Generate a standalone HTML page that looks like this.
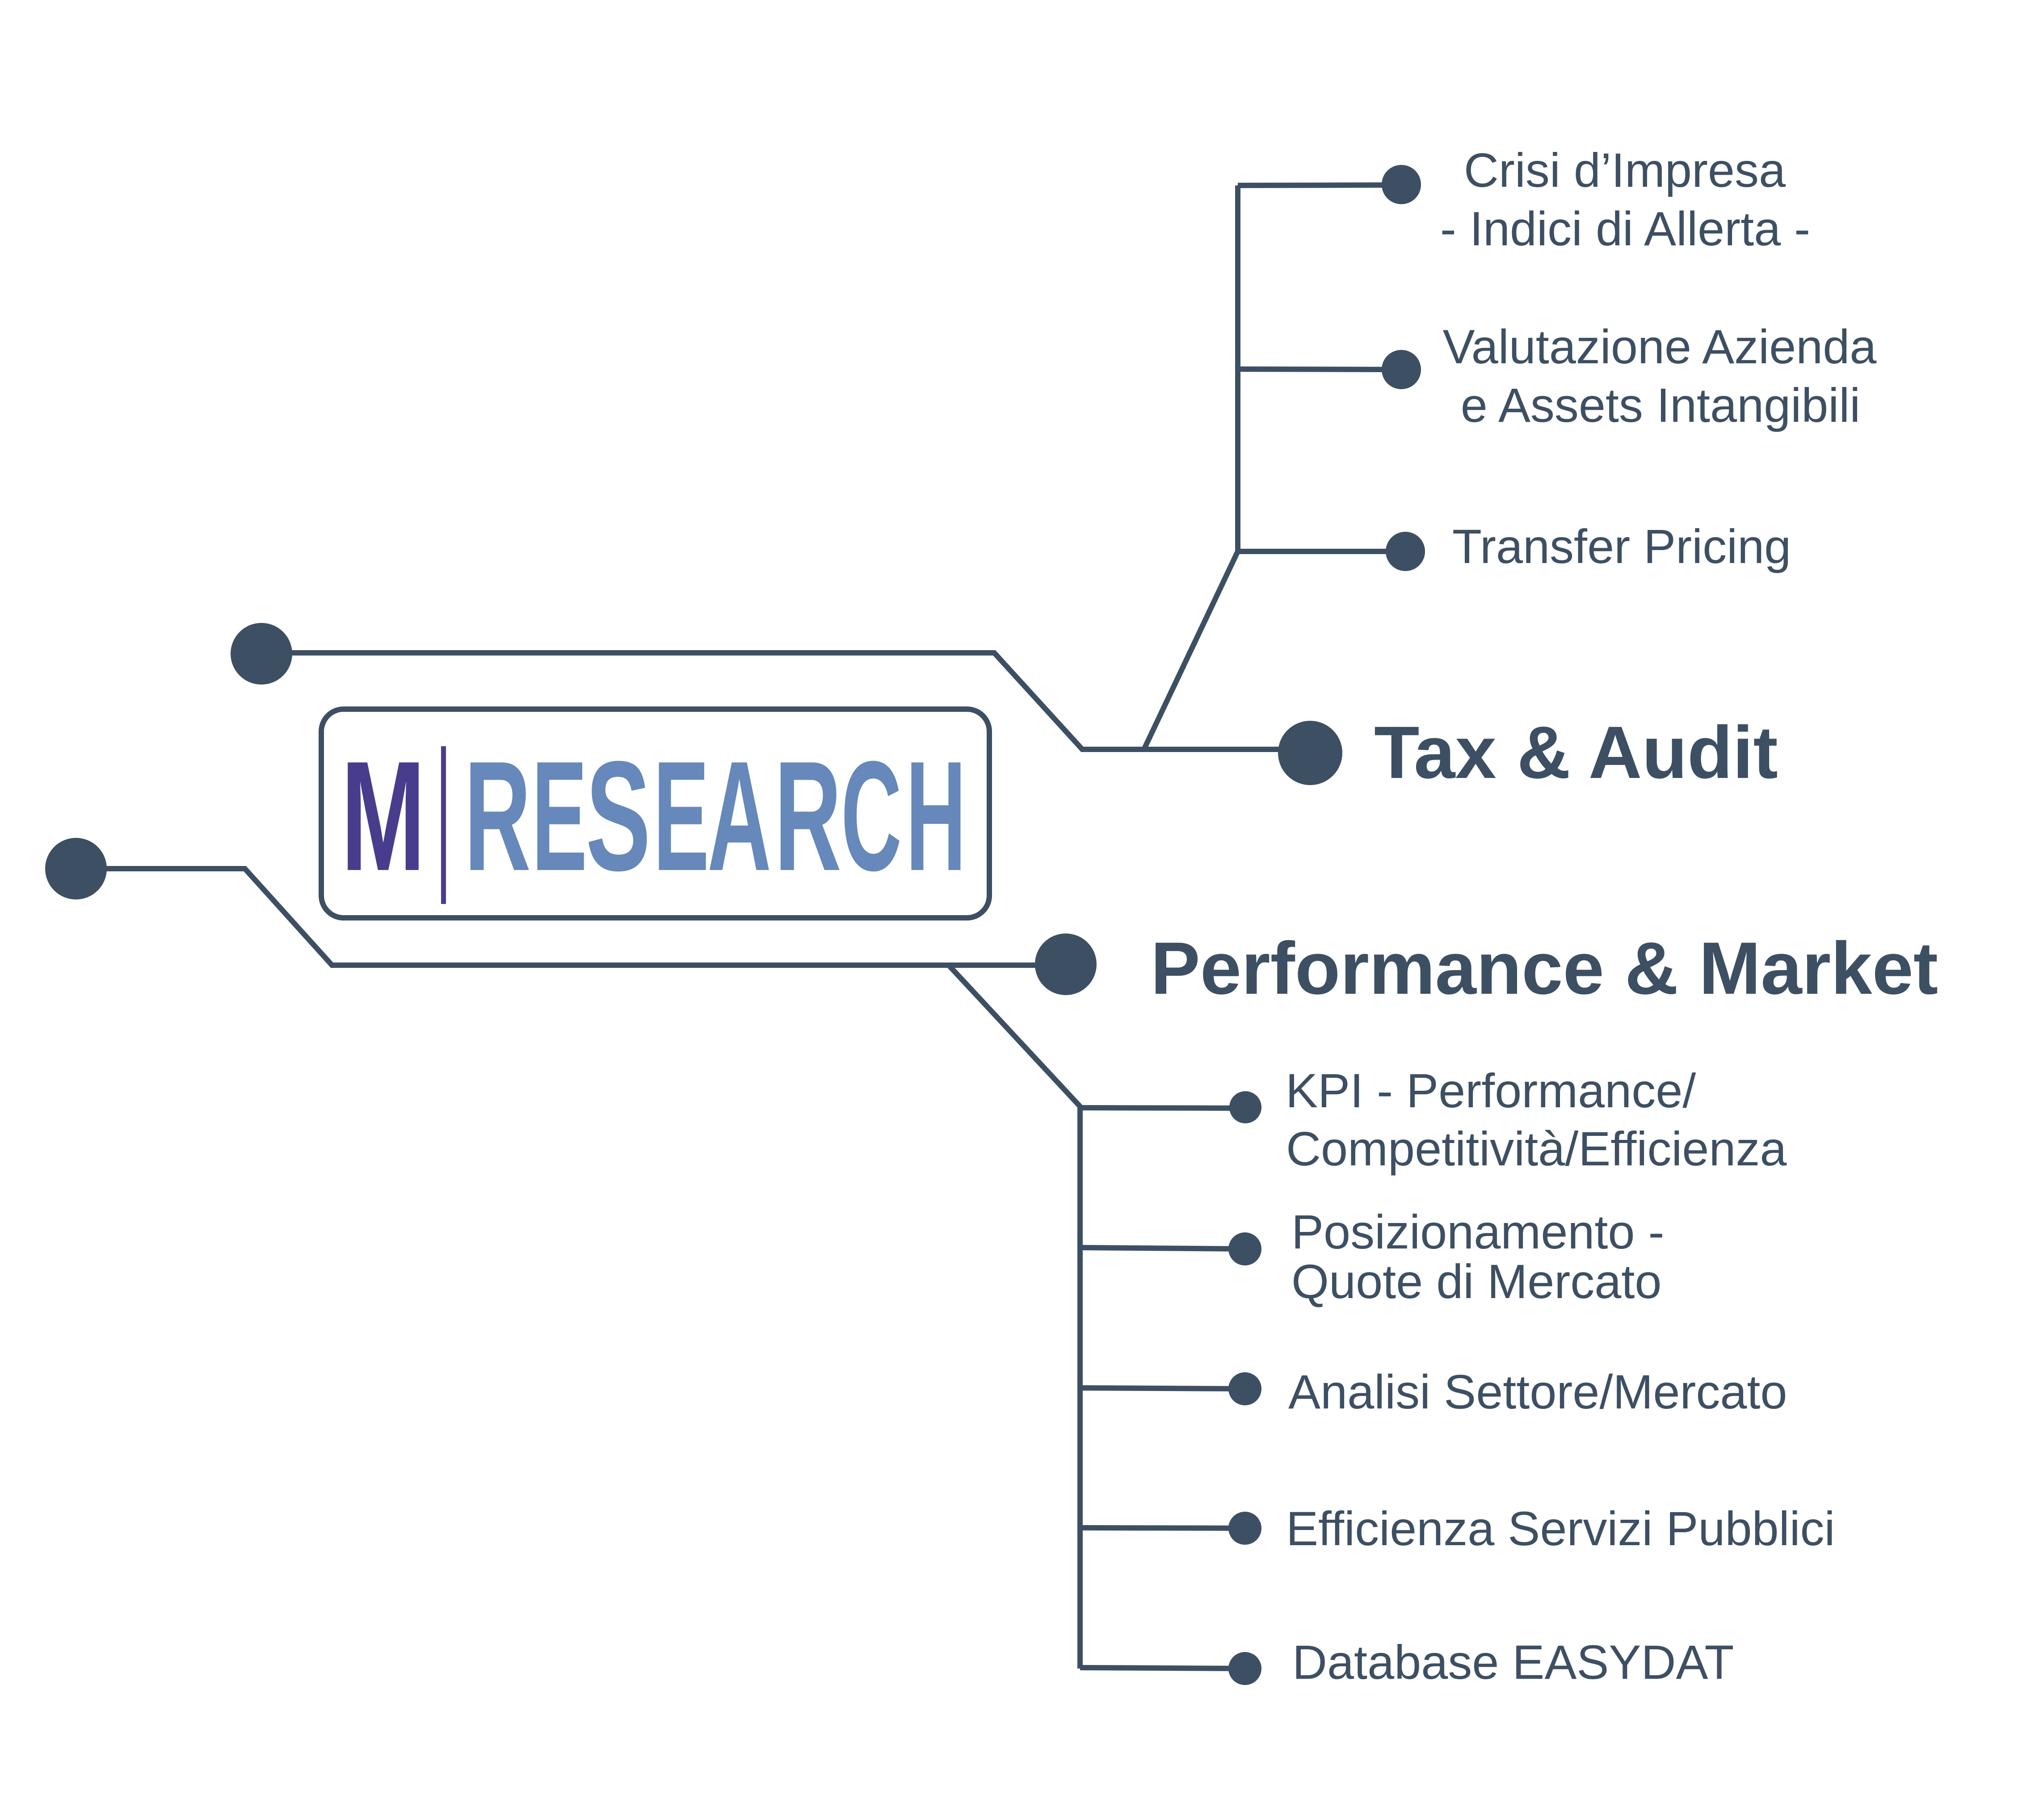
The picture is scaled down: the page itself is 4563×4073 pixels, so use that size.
<!DOCTYPE html>
<html>
<head>
<meta charset="utf-8">
<style>
  html,body{margin:0;padding:0;background:#ffffff;}
  svg{display:block;}
  .t{font-family:"Liberation Sans",Arial,sans-serif;fill:#3d4f63;}
</style>
</head>
<body>
<svg width="4563" height="4073" viewBox="0 0 4563 4073" xmlns="http://www.w3.org/2000/svg">
  <rect x="0" y="0" width="4563" height="4073" fill="#ffffff"/>

  <g stroke="#3d4f63" stroke-width="12" fill="none" stroke-linejoin="miter">
    <!-- upper main connector -->
    <polyline points="585,1461 2225,1461 2422,1677 2932,1677"/>
    <!-- branch up to Tax & Audit sublist -->
    <polyline points="2560,1677 2770,1234 2770,415"/>
    <line x1="2770" y1="415" x2="3136" y2="414"/>
    <line x1="2770" y1="826" x2="3136" y2="827"/>
    <line x1="2770" y1="1234" x2="3145" y2="1234"/>

    <!-- lower main connector -->
    <polyline points="170,1944 548,1944 743,2160 2385,2160"/>
    <!-- branch down to Performance sublist -->
    <polyline points="2123,2160 2417,2476 2417,3734"/>
    <line x1="2417" y1="2479" x2="2786" y2="2480"/>
    <line x1="2417" y1="2792" x2="2786" y2="2795"/>
    <line x1="2417" y1="3106" x2="2786" y2="3108"/>
    <line x1="2417" y1="3419" x2="2786" y2="3420"/>
    <line x1="2417" y1="3732" x2="2786" y2="3734"/>

    <!-- logo box -->
    <rect x="719" y="1587" width="1495" height="467" rx="50" ry="50"/>
  </g>

  <g fill="#3d4f63">
    <!-- big nodes -->
    <circle cx="585" cy="1463" r="69"/>
    <circle cx="170" cy="1944" r="69"/>
    <circle cx="2932" cy="1685" r="72"/>
    <circle cx="2385" cy="2158" r="69"/>
    <!-- upper small nodes -->
    <circle cx="3136" cy="413" r="44"/>
    <circle cx="3136" cy="827" r="44"/>
    <circle cx="3145" cy="1234" r="44"/>
    <!-- lower small nodes -->
    <circle cx="2787" cy="2478" r="36"/>
    <circle cx="2786" cy="2795" r="37"/>
    <circle cx="2786" cy="3108" r="37"/>
    <circle cx="2786" cy="3420" r="37"/>
    <circle cx="2786" cy="3734" r="37"/>
  </g>

  <!-- Logo -->
  <g font-family="'Liberation Sans',Arial,sans-serif" font-weight="bold" font-size="350">
    <text x="763" y="1947" textLength="189" lengthAdjust="spacingAndGlyphs" fill="#483d8d">M</text>
    <rect x="987" y="1670" width="11" height="353" fill="#483d8d"/>
    <g fill="#6688ba">
      <text x="1039" y="1947" textLength="149" lengthAdjust="spacingAndGlyphs">R</text>
      <text x="1190" y="1947" textLength="124" lengthAdjust="spacingAndGlyphs">E</text>
      <text x="1311" y="1947" textLength="145" lengthAdjust="spacingAndGlyphs">S</text>
      <text x="1462" y="1947" textLength="125" lengthAdjust="spacingAndGlyphs">E</text>
      <text x="1583" y="1947" textLength="143" lengthAdjust="spacingAndGlyphs">A</text>
      <text x="1733" y="1947" textLength="150" lengthAdjust="spacingAndGlyphs">R</text>
      <text x="1882" y="1947" textLength="136" lengthAdjust="spacingAndGlyphs">C</text>
      <text x="2027" y="1947" textLength="135" lengthAdjust="spacingAndGlyphs">H</text>
    </g>
  </g>

  <!-- Headings -->
  <text class="t" x="3075" y="1741" font-size="166" font-weight="bold">Tax &amp; Audit</text>
  <text class="t" x="2575" y="2224" font-size="166" font-weight="bold">Performance &amp; Market</text>

  <!-- Upper sublist -->
  <g class="t" font-size="108">
    <text x="3636" y="418" text-anchor="middle">Crisi d’Impresa</text>
    <text x="3637" y="549" text-anchor="middle">- Indici di Allerta -</text>
    <text x="3714" y="813" text-anchor="middle">Valutazione Azienda</text>
    <text x="3716" y="944" text-anchor="middle">e Assets Intangibili</text>
    <text x="3250" y="1260">Transfer Pricing</text>
  </g>

  <!-- Lower sublist -->
  <g class="t" font-size="108">
    <text x="2877" y="2478">KPI - Performance/</text>
    <text x="2878" y="2608">Competitività/Efficienza</text>
    <text x="2890" y="2794">Posizionamento -</text>
    <text x="2890" y="2905">Quote di Mercato</text>
    <text x="2883" y="3152">Analisi Settore/Mercato</text>
    <text x="2878" y="3458">Efficienza Servizi Pubblici</text>
    <text x="2892" y="3757">Database EASYDAT</text>
  </g>
</svg>
</body>
</html>
